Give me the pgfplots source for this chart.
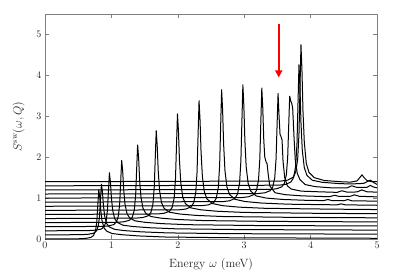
\documentclass[border=0pt]{standalone}
\usepackage{pgfplots}
\pgfplotsset{compat=1.18}
\usetikzlibrary{arrows.meta}
\begin{document}
\begin{tikzpicture}
\begin{axis}[
  width=332pt, height=225pt, scale only axis,
  xmin=0, xmax=5, ymin=0, ymax=5.5,
  xtick={0,1,2,3,4,5}, ytick={0,1,2,3,4,5},
  axis line style={gray}, tick style={gray, thin},
  major tick length=4pt,
  tick label style={font=\normalsize, black!85},
  xlabel={Energy $\omega$ (meV)},
  ylabel={$S^{\mathrm{sw}}(\omega,Q)$},
  xlabel shift=3pt, ylabel shift=5pt,
  label style={font=\large, black!85},
  curve/.style={black, line width=1pt, line join=round, mark=none},
  clip=true,
]
% curve 0 (offset 0)
\addplot[curve] coordinates {(0,0) (0.51,0.006) (0.61,0.014) (0.69,0.038) (0.73,0.084) (0.76,0.194) (0.78,0.42) (0.795,0.816) (0.81,1.20) (0.825,1.02) (0.84,0.696) (0.86,0.438) (0.89,0.268) (0.93,0.191) (1.01,0.134) (1.16,0.105) (1.41,0.075) (1.81,0.049) (2.81,0.03) (5,0.018)};
% curve 1
\addplot[curve] coordinates {(0,0.1) (0.55,0.106) (0.65,0.115) (0.73,0.140) (0.77,0.187) (0.80,0.301) (0.82,0.534) (0.835,0.943) (0.85,1.34) (0.865,1.152) (0.88,0.816) (0.90,0.549) (0.93,0.373) (0.97,0.293) (1.05,0.235) (1.20,0.205) (1.45,0.175) (1.85,0.149) (2.85,0.13) (5,0.118)};
% curve 2
\addplot[curve] coordinates {(0,0.2) (0.67,0.207) (0.77,0.217) (0.85,0.245) (0.89,0.299) (0.92,0.430) (0.94,0.697) (0.955,1.166) (0.97,1.62) (0.985,1.396) (1.00,1.006) (1.02,0.696) (1.05,0.495) (1.09,0.404) (1.17,0.339) (1.32,0.306) (1.57,0.276) (1.97,0.249) (2.97,0.23) (5,0.218)};
% curve 3
\addplot[curve] coordinates {(0,0.3) (0.855,0.308) (0.955,0.319) (1.035,0.352) (1.075,0.413) (1.105,0.562) (1.125,0.867) (1.14,1.402) (1.155,1.92) (1.17,1.656) (1.185,1.206) (1.205,0.849) (1.235,0.619) (1.275,0.516) (1.355,0.444) (1.505,0.408) (1.755,0.376) (2.155,0.350) (3.155,0.33) (5,0.318)};
% curve 4
\addplot[curve] coordinates {(0,0.4) (1.095,0.41) (1.195,0.423) (1.275,0.461) (1.315,0.533) (1.345,0.708) (1.365,1.065) (1.38,1.692) (1.395,2.30) (1.41,1.98) (1.425,1.446) (1.445,1.024) (1.475,0.754) (1.515,0.632) (1.595,0.550) (1.745,0.510) (1.995,0.477) (2.395,0.45) (3.395,0.43) (5,0.418)};
% curve 5
\addplot[curve] coordinates {(0,0.5) (1.375,0.511) (1.475,0.526) (1.555,0.569) (1.595,0.651) (1.625,0.848) (1.645,1.253) (1.66,1.962) (1.675,2.65) (1.69,2.28) (1.705,1.671) (1.725,1.19) (1.755,0.884) (1.795,0.747) (1.875,0.655) (2.025,0.612) (2.275,0.577) (2.675,0.55) (3.675,0.53) (5,0.518)};
% curve 6
\addplot[curve] coordinates {(0,0.6) (1.695,0.612) (1.795,0.630) (1.875,0.679) (1.915,0.772) (1.945,0.999) (1.965,1.461) (1.98,2.273) (1.995,3.06) (2.01,2.628) (2.025,1.926) (2.045,1.372) (2.075,1.023) (2.115,0.865) (2.195,0.762) (2.345,0.714) (2.595,0.678) (2.995,0.65) (3.995,0.63) (5,0.618)};
% curve 7
\addplot[curve] coordinates {(0,0.7) (2.02,0.713) (2.12,0.732) (2.20,0.786) (2.24,0.888) (2.27,1.134) (2.29,1.638) (2.305,2.522) (2.32,3.38) (2.335,2.904) (2.35,2.136) (2.37,1.53) (2.40,1.15) (2.44,0.978) (2.52,0.867) (2.67,0.816) (2.92,0.779) (3.32,0.75) (4.32,0.73) (5,0.72)};
% curve 8
\addplot[curve] coordinates {(0,0.8) (2.36,0.814) (2.46,0.834) (2.54,0.891) (2.58,1.0) (2.61,1.262) (2.63,1.798) (2.645,2.738) (2.66,3.65) (2.675,3.14) (2.69,2.321) (2.71,1.675) (2.74,1.271) (2.78,1.088) (2.86,0.971) (3.01,0.917) (3.26,0.879) (3.66,0.851) (4.4,0.835) (4.46,0.86) (4.52,0.835) (5,0.825)};
% curve 9
\addplot[curve] coordinates {(0,0.9) (2.68,0.914) (2.78,0.934) (2.86,0.992) (2.90,1.101) (2.93,1.365) (2.95,1.905) (2.965,2.852) (2.98,3.77) (2.995,3.246) (3.01,2.415) (3.03,1.761) (3.06,1.353) (3.10,1.169) (3.18,1.053) (3.33,1.001) (3.58,0.967) (3.98,0.943) (4.2,0.94) (4.26,0.965) (4.32,0.94) (4.5,0.935) (4.56,0.965) (4.62,0.935) (5,0.925)};
% curve 10
\addplot[curve] coordinates {(0,1.0) (2.965,1.013) (3.065,1.032) (3.145,1.086) (3.185,1.188) (3.215,1.436) (3.235,1.942) (3.25,2.829) (3.265,3.69) (3.28,3.192) (3.295,2.409) (3.31,2.0) (3.33,1.88) (3.345,1.84) (3.36,1.6) (3.385,1.30) (3.465,1.131) (3.615,1.084) (3.865,1.055) (4.265,1.034) (4.3,1.04) (4.36,1.07) (4.43,1.04) (4.6,1.045) (4.66,1.08) (4.73,1.045) (5,1.03)};
% curve 11
\addplot[curve] coordinates {(0,1.1) (3.21,1.112) (3.31,1.130) (3.39,1.179) (3.43,1.272) (3.46,1.499) (3.48,1.961) (3.495,2.773) (3.51,3.56) (3.525,3.0) (3.54,2.55) (3.555,2.5) (3.57,2.42) (3.585,1.9) (3.61,1.5) (3.65,1.3) (3.71,1.22) (3.86,1.17) (4.11,1.155) (4.4,1.14) (4.47,1.18) (4.55,1.145) (4.7,1.15) (4.77,1.2) (4.85,1.155) (5,1.145)};
% curve 12
\addplot[curve] coordinates {(0,1.2) (3.385,1.211) (3.485,1.227) (3.565,1.273) (3.605,1.36) (3.635,1.571) (3.655,2.0) (3.67,2.757) (3.685,3.49) (3.70,3.38) (3.715,3.32) (3.73,3.2) (3.75,2.5) (3.77,1.9) (3.80,1.6) (3.84,1.45) (3.92,1.33) (4.07,1.28) (4.32,1.25) (4.55,1.25) (4.62,1.30) (4.7,1.26) (4.85,1.265) (4.9,1.31) (4.95,1.27) (5,1.25)};
% curve 13
\addplot[curve] coordinates {(0,1.3) (3.525,1.315) (3.625,1.336) (3.705,1.395) (3.745,1.507) (3.775,1.78) (3.795,2.336) (3.81,3.313) (3.825,4.26) (3.84,3.708) (3.855,2.844) (3.875,2.164) (3.905,1.744) (3.945,1.555) (4.025,1.437) (4.175,1.386) (4.425,1.355) (4.6,1.345) (4.8,1.36) (4.9,1.44) (4.95,1.38) (5,1.335)};
% curve 14
\addplot[curve] coordinates {(0,1.4) (3.555,1.417) (3.655,1.44) (3.735,1.507) (3.775,1.635) (3.805,1.943) (3.825,2.573) (3.84,3.678) (3.855,4.75) (3.87,4.12) (3.885,3.139) (3.905,2.368) (3.935,1.85) (3.975,1.63) (4.055,1.50) (4.205,1.43) (4.455,1.40) (4.6,1.39) (4.7,1.42) (4.75,1.52) (4.775,1.57) (4.8,1.51) (4.85,1.43) (4.92,1.40) (5,1.40)};
\draw[red, line width=1.8pt, -{Triangle[width=7pt,length=7pt]}] (axis cs:3.52,5.25) -- (axis cs:3.52,3.95);
\end{axis}
\path (current axis.south west) ++(-45pt,-40pt) coordinate (bbsw);
\path (current axis.north east) ++(22pt,14pt) coordinate (bbne);
\useasboundingbox (bbsw) rectangle (bbne);
\end{tikzpicture}
\end{document}
